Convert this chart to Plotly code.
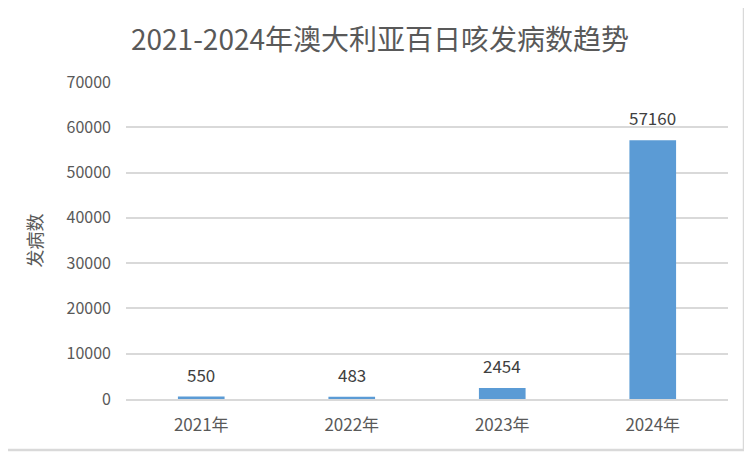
import plotly.graph_objects as go

# data
years = ["2021年", "2022年", "2023年", "2024年"]
cases = [550, 483, 2454, 57160]
y_ticks = [0, 10000, 20000, 30000, 40000, 50000, 60000, 70000]

font_family = "Noto Sans CJK SC, Noto Sans, sans-serif"

# page body adds an 8px margin, so the figure is 8px smaller than the window
W, H = 744, 444
L, R, T, B = 118, 24, 74, 53
pw, ph = W - L - R, H - T - B
edge_x = 736  # right border, figure pixels (anything further right is cut off)

fig = go.Figure()
fig.add_trace(go.Bar(
    x=years, y=cases,
    marker=dict(color="#5B9BD5", line=dict(width=0)),
    width=0.31,
    hoverinfo="x+y",
))

# data labels above the bars
for yr, v in zip(years, cases):
    fig.add_annotation(x=yr, y=v, text=str(v), showarrow=False,
                       yanchor="bottom", yshift=8,
                       font=dict(size=17, color="#404040", family=font_family))

fig.update_layout(
    width=W, height=H,
    margin=dict(l=L, r=R, t=T, b=B),
    paper_bgcolor="white",
    plot_bgcolor="white",
    showlegend=False,
    title=dict(text="2021-2024年澳大利亚百日咳发病数趋势",
               x=0.5, xanchor="center", xref="container",
               y=1 - 32 / H, yanchor="middle", yref="container",
               font=dict(size=28, color="#595959", family=font_family)),
    font=dict(family=font_family, color="#595959"),
)
fig.update_yaxes(range=[0, 70000], tickvals=y_ticks, tickformat="d", showgrid=True,
                 gridcolor="#D9D9D9", gridwidth=1.5, zeroline=False,
                 showline=False, ticks="", tickfont=dict(size=16, color="#595959"),
                 ticklabelstandoff=14)
fig.update_xaxes(showline=True, linecolor="#D9D9D9", linewidth=1.5, ticks="",
                 tickfont=dict(size=17, color="#595959"), ticklabelstandoff=10)

# y axis title
fig.add_annotation(xref="paper", yref="paper", x=-93 / pw, y=0.5,
                   text="发病数", textangle=-90, showarrow=False,
                   xanchor="center", yanchor="middle",
                   font=dict(size=18, color="#595959", family=font_family))

# outer chart border (right and bottom edges)
fig.add_shape(type="line", xref="paper", yref="paper",
              x0=(edge_x - L) / pw, x1=(edge_x - L) / pw, y0=-(B - 2) / ph, y1=1 + T / ph,
              line=dict(color="#D9D9D9", width=2.5))
fig.add_shape(type="line", xref="paper", yref="paper",
              x0=-L / pw, x1=(edge_x - L) / pw, y0=-(B - 2) / ph, y1=-(B - 2) / ph,
              line=dict(color="#D9D9D9", width=2.5))

fig.write_html("out.html")
